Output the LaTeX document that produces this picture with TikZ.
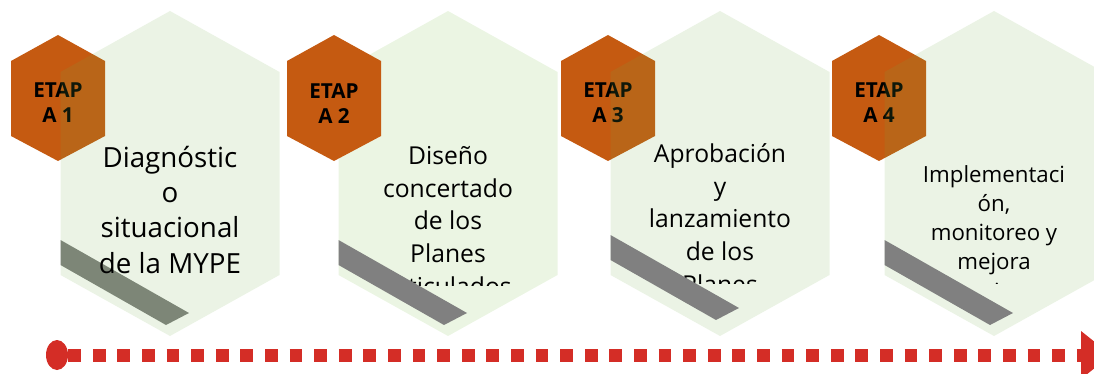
\documentclass[tikz,border=0pt]{standalone}
\usepackage{fontspec}
\setmainfont{Open Sans}
\usetikzlibrary{arrows.meta,shapes.geometric}
\definecolor{hexgreen}{RGB}{112,173,71}
\definecolor{hexgreenlight}{RGB}{235,245,227}
\definecolor{etapaorange}{RGB}{197,90,17}
\definecolor{bandgray}{RGB}{128,128,128}
\definecolor{timered}{RGB}{212,45,38}
\tikzset{
  bighexpath/.style={insert path={(0,11) -- (109.5,72) -- (109.5,275) -- (0,336) -- (-109.5,275) -- (-109.5,72) -- cycle}},
  greenhex/.style={fill=hexgreen, fill opacity=0.14, bighexpath},
  greenhexsolid/.style={fill=hexgreenlight, bighexpath},
  orangehex/.style={fill=etapaorange},
  grayband/.style={fill=bandgray},
  etapatext/.style={font=\fontsize{15.5}{18.5}\selectfont\bfseries, align=center, anchor=base, inner sep=0pt, text=black},
  maintext/.style={align=center, anchor=base, inner sep=0pt, text=black},
}
\newcommand{\smallhexat}[1]{\fill[orangehex] (#1,35) -- (#1+47,61) -- (#1+47,136) -- (#1,161) -- (#1-47,136) -- (#1-47,61) -- cycle;}
\newcommand{\bandat}[1]{\fill[grayband] (-109.5,240+#1) -- (19,313+#1) -- (-4,325+#1) -- (-109.5,265+#1) -- cycle;}
\begin{document}
\begin{tikzpicture}[x=0.75pt,y=-0.75pt]
\useasboundingbox (0,0) rectangle (1094,374);
% ---------- stage 1
\begin{scope}[shift={(170,0)}]
  \smallhexat{-112}
  \node[etapatext] (e1) at (-112,122.5) {ETAP\\A 1};
  \bandat{0}
  \fill[greenhex];
  \node[maintext, font=\fontsize{20.8}{26.3}\selectfont] (t1) at (0,273) {Diagnóstic\\o\\situacional\\de la MYPE};
\end{scope}
% ---------- stage 2
\begin{scope}[shift={(448,0)}]
  \fill[greenhexsolid];
  \smallhexat{-114}
  \node[etapatext] (e2) at (-114,123.5) {ETAP\\A 2};
  \begin{scope}
    \clip (-110,0) rectangle (110,285);
    \node[maintext, font=\fontsize{18.5}{24.4}\selectfont] (t2) at (0,295) {Diseño\\concertado\\de los\\Planes\\articulados};
  \end{scope}
  \bandat{0}
\end{scope}
% ---------- stage 3
\begin{scope}[shift={(720,0)}]
  \smallhexat{-112}
  \node[etapatext] (e3) at (-112,122.5) {ETAP\\A 3};
  \fill[greenhex];
  \begin{scope}
    \clip (-110,0) rectangle (110,283);
    \node[maintext, font=\fontsize{18.5}{24.4}\selectfont] (t3) at (0,293) {Aprobación\\y\\lanzamiento\\de los\\Planes};
  \end{scope}
  \bandat{-5}
\end{scope}
% ---------- stage 4
\begin{scope}[shift={(994,0)}]
  \smallhexat{-115}
  \node[etapatext] (e4) at (-115,122.5) {ETAP\\A 4};
  \fill[greenhex];
  \begin{scope}
    \clip (-110,0) rectangle (110,283.5);
    \node[maintext, font=\fontsize{16.7}{21.8}\selectfont] (t4) at (0,299) {Implementaci\\ón,\\monitoreo y\\mejora\\continua};
  \end{scope}
  \bandat{0}
\end{scope}
% ---------- time line
\node[ellipse, fill=timered, minimum width=16.5pt, minimum height=22.5pt, inner sep=0pt] (start) at (57,355) {};
\coordinate (finish) at (1111,355);
\draw[timered, line width=9.75pt, dash pattern=on 9.6pt off 8.85pt,
      -{Triangle[length=22.5pt, width=36pt, line width=0pt]}] (start.east) -- (finish);
\end{tikzpicture}
\end{document}
